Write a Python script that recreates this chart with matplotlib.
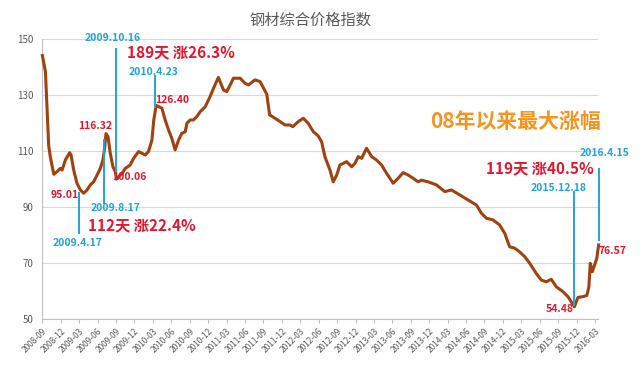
import numpy as np
import pandas as pd
import matplotlib
matplotlib.use("Agg")
import matplotlib.pyplot as plt

plt.rcParams['font.family'] = ['Noto Sans CJK SC', 'DejaVu Sans']

# 钢材综合价格指数
dates = ['2008-10-17', '2008-11-01', '2008-11-17', '2008-11-25', '2008-12-12', '2008-12-28',
         '2009-01-13', '2009-01-22', '2009-02-07', '2009-02-28', '2009-03-07', '2009-03-20',
         '2009-04-05', '2009-04-22', '2009-05-08', '2009-05-25', '2009-06-10', '2009-06-26',
         '2009-07-13', '2009-07-29', '2009-08-11', '2009-08-18', '2009-08-26', '2009-09-05',
         '2009-09-16', '2009-09-29', '2009-10-11', '2009-10-16', '2009-11-13', '2009-11-29',
         '2009-12-23', '2010-01-09', '2010-02-02', '2010-02-19', '2010-03-07', '2010-03-23',
         '2010-04-09', '2010-04-18', '2010-04-30', '2010-05-28', '2010-06-13', '2010-06-30',
         '2010-07-16', '2010-08-01', '2010-08-18', '2010-09-03', '2010-09-20', '2010-09-28',
         '2010-10-14', '2010-10-30', '2010-11-16', '2010-12-02', '2010-12-27', '2011-01-20',
         '2011-02-06', '2011-03-02', '2011-03-27', '2011-04-12', '2011-04-29', '2011-05-15',
         '2011-06-17', '2011-07-11', '2011-07-28', '2011-08-29', '2011-09-23', '2011-10-26',
         '2011-11-09', '2011-12-06', '2012-01-24', '2012-02-17', '2012-03-02', '2012-03-29',
         '2012-04-23', '2012-05-17', '2012-06-11', '2012-07-05', '2012-07-22', '2012-08-07',
         '2012-09-01', '2012-09-17', '2012-10-04', '2012-10-20', '2012-11-22', '2012-12-17',
         '2013-01-02', '2013-01-18', '2013-02-04', '2013-02-28', '2013-03-25', '2013-04-18',
         '2013-05-13', '2013-06-07', '2013-07-09', '2013-08-03', '2013-08-27', '2013-09-21',
         '2013-10-15', '2013-11-09', '2013-11-25', '2013-12-28', '2014-02-07', '2014-03-20',
         '2014-04-22', '2014-06-02', '2014-07-12', '2014-08-23', '2014-09-16', '2014-10-11',
         '2014-11-12', '2014-12-15', '2015-01-09', '2015-02-02', '2015-02-27', '2015-03-23',
         '2015-04-17', '2015-05-12', '2015-06-13', '2015-07-08', '2015-08-02', '2015-08-26',
         '2015-09-20', '2015-10-22', '2015-11-16', '2015-12-18', '2016-01-04', '2016-01-29',
         '2016-02-17', '2016-02-27', '2016-03-05', '2016-03-15', '2016-03-26', '2016-04-06',
         '2016-04-15']
values = [144.2, 138.4, 112.0, 108.0, 101.8, 102.7,
          103.9, 103.3, 106.9, 109.5, 108.7, 103.3,
          98.6, 96.2, 95.01, 96.2, 98.0, 99.1,
          101.5, 103.9, 106.9, 110.5, 116.32, 115.2,
          109.3, 104.5, 102.7, 100.06, 102.1, 103.9,
          105.1, 107.5, 109.9, 109.3, 108.7, 109.9,
          114.0, 121.2, 126.40, 125.4, 121.2, 117.6,
          114.6, 110.5, 114.0, 116.4, 117.0, 120.0,
          121.2, 121.2, 122.4, 124.1, 125.9, 129.5,
          132.5, 136.4, 131.9, 131.3, 133.7, 136.1,
          136.1, 134.3, 133.7, 135.5, 134.9, 130.4,
          123.0, 121.8, 119.4, 119.4, 118.8, 120.6,
          121.8, 120.0, 117.0, 115.5, 113.4, 108.1,
          103.3, 99.1, 101.5, 105.1, 106.3, 104.5,
          105.7, 108.1, 107.5, 111.1, 108.1, 106.9,
          105.1, 102.1, 98.6, 100.4, 102.4, 101.5,
          100.4, 99.1, 99.7, 99.1, 98.0, 95.6,
          96.2, 94.4, 92.6, 90.8, 87.9, 86.1,
          85.5, 83.7, 80.7, 75.9, 75.4, 74.1,
          72.4, 70.0, 66.4, 64.0, 63.4, 64.3,
          61.6, 59.9, 58.1, 54.48, 57.8, 58.1,
          58.5, 61.6, 70.0, 67.0, 69.4, 71.8,
          76.57]

tick_labels = pd.date_range('2008-09-01', '2016-03-01', freq='3MS').strftime('%Y-%m')
tick_pos = pd.date_range('2008-10-17', '2016-03-28', periods=len(tick_labels))

# blue date markers: date, label, line bottom, line top, label dx, label y
marks = [
    ('2009-04-17', '2009.4.17', 80.8, 95.0, -2, 77.3),
    ('2009-08-17', '2009.8.17', 91.5, 114.0, 11, 89.8),
    ('2009-10-16', '2009.10.16', 101.2, 146.5, -4, 150.5),
    ('2010-04-23', '2010.4.23', 125.8, 136.9, -1, 138.3),
    ('2015-12-18', '2015.12.18', 55.2, 95.5, -16, 96.9),
    ('2016-04-15', '2016.4.15', 78.3, 103.7, 6, 109.4),
]
# red value labels: date, text, dx, y
value_labels = [
    ('2009-04-17', '95.01', -15, 94.4),
    ('2009-08-26', '116.32', -11, 119.0),
    ('2009-10-16', '100.06', 13, 100.8),
    ('2010-04-23', '126.40', 17, 128.4),
    ('2015-12-18', '54.48', -15, 53.6),
    ('2016-04-15', '76.57', 14, 74.4),
]
gains = [
    ('2009-08-17', '112天 涨22.4%', 38, 83.6),
    ('2009-10-16', '189天 涨26.3%', 65, 145.5),
    ('2016-04-15', '119天 涨40.5%', -59, 104.0),
]

blue = '#21a3dc'
red = '#e3172d'
gray = '#595959'

fig = plt.figure(figsize=(6.4, 3.66), dpi=100)
ax = fig.add_axes([0.0656, 0.1276, 0.8688, 0.765])

ax.plot(pd.to_datetime(dates), values, color='#a0420f', lw=2.2, solid_joinstyle='round',
        zorder=3, clip_on=False)

ax.set_ylim(50, 150)
ax.set_yticks([50, 70, 90, 110, 130, 150])
ax.set_xlim(pd.Timestamp('2008-10-15'), pd.Timestamp('2016-04-12'))
ax.set_xticks(tick_pos)
ax.set_xticklabels(tick_labels, rotation=45, ha='right', rotation_mode='anchor', fontsize=6, color=gray)
ax.tick_params(axis='x', length=3, color='#bfbfbf', pad=2)
ax.tick_params(axis='y', length=0, labelsize=7, labelcolor=gray, pad=6)
ax.grid(axis='y', color='#d9d9d9', lw=0.8)
ax.set_axisbelow(True)
for s in ['top', 'right']:
    ax.spines[s].set_visible(False)
for s in ['left', 'bottom']:
    ax.spines[s].set_color('#bfbfbf')

for d, lab, y0, y1, dx, ty in marks:
    x = pd.Timestamp(d)
    ax.plot([x, x], [y0, y1], color=blue, lw=1.4, zorder=4, clip_on=False)
    ax.annotate(lab, xy=(x, ty), xytext=(dx, 0), textcoords='offset pixels', annotation_clip=False,
                ha='center', va='center', fontsize=7.5, color=blue, fontweight='bold', zorder=5)

for d, lab, dx, ty in value_labels:
    ax.annotate(lab, xy=(pd.Timestamp(d), ty), xytext=(dx, 0), textcoords='offset pixels',
                annotation_clip=False, ha='center', va='center', fontsize=7.5, color=red,
                fontweight='bold', zorder=5)

for d, lab, dx, ty in gains:
    ax.annotate(lab, xy=(pd.Timestamp(d), ty), xytext=(dx, 0), textcoords='offset pixels',
                annotation_clip=False, ha='center', va='center', fontsize=11, color=red,
                fontweight='bold', zorder=5)

ax.annotate('08年以来最大涨幅', xy=(pd.Timestamp('2016-04-15'), 120.8), xytext=(-83, 0),
            textcoords='offset pixels', annotation_clip=False, ha='center', va='center',
            fontsize=15, color='#f7941d', fontweight='bold', zorder=5)

fig.text(0.486, 0.945, '钢材综合价格指数', ha='center', va='center', fontsize=11, color=gray)

fig.savefig('out.png', dpi=100)
